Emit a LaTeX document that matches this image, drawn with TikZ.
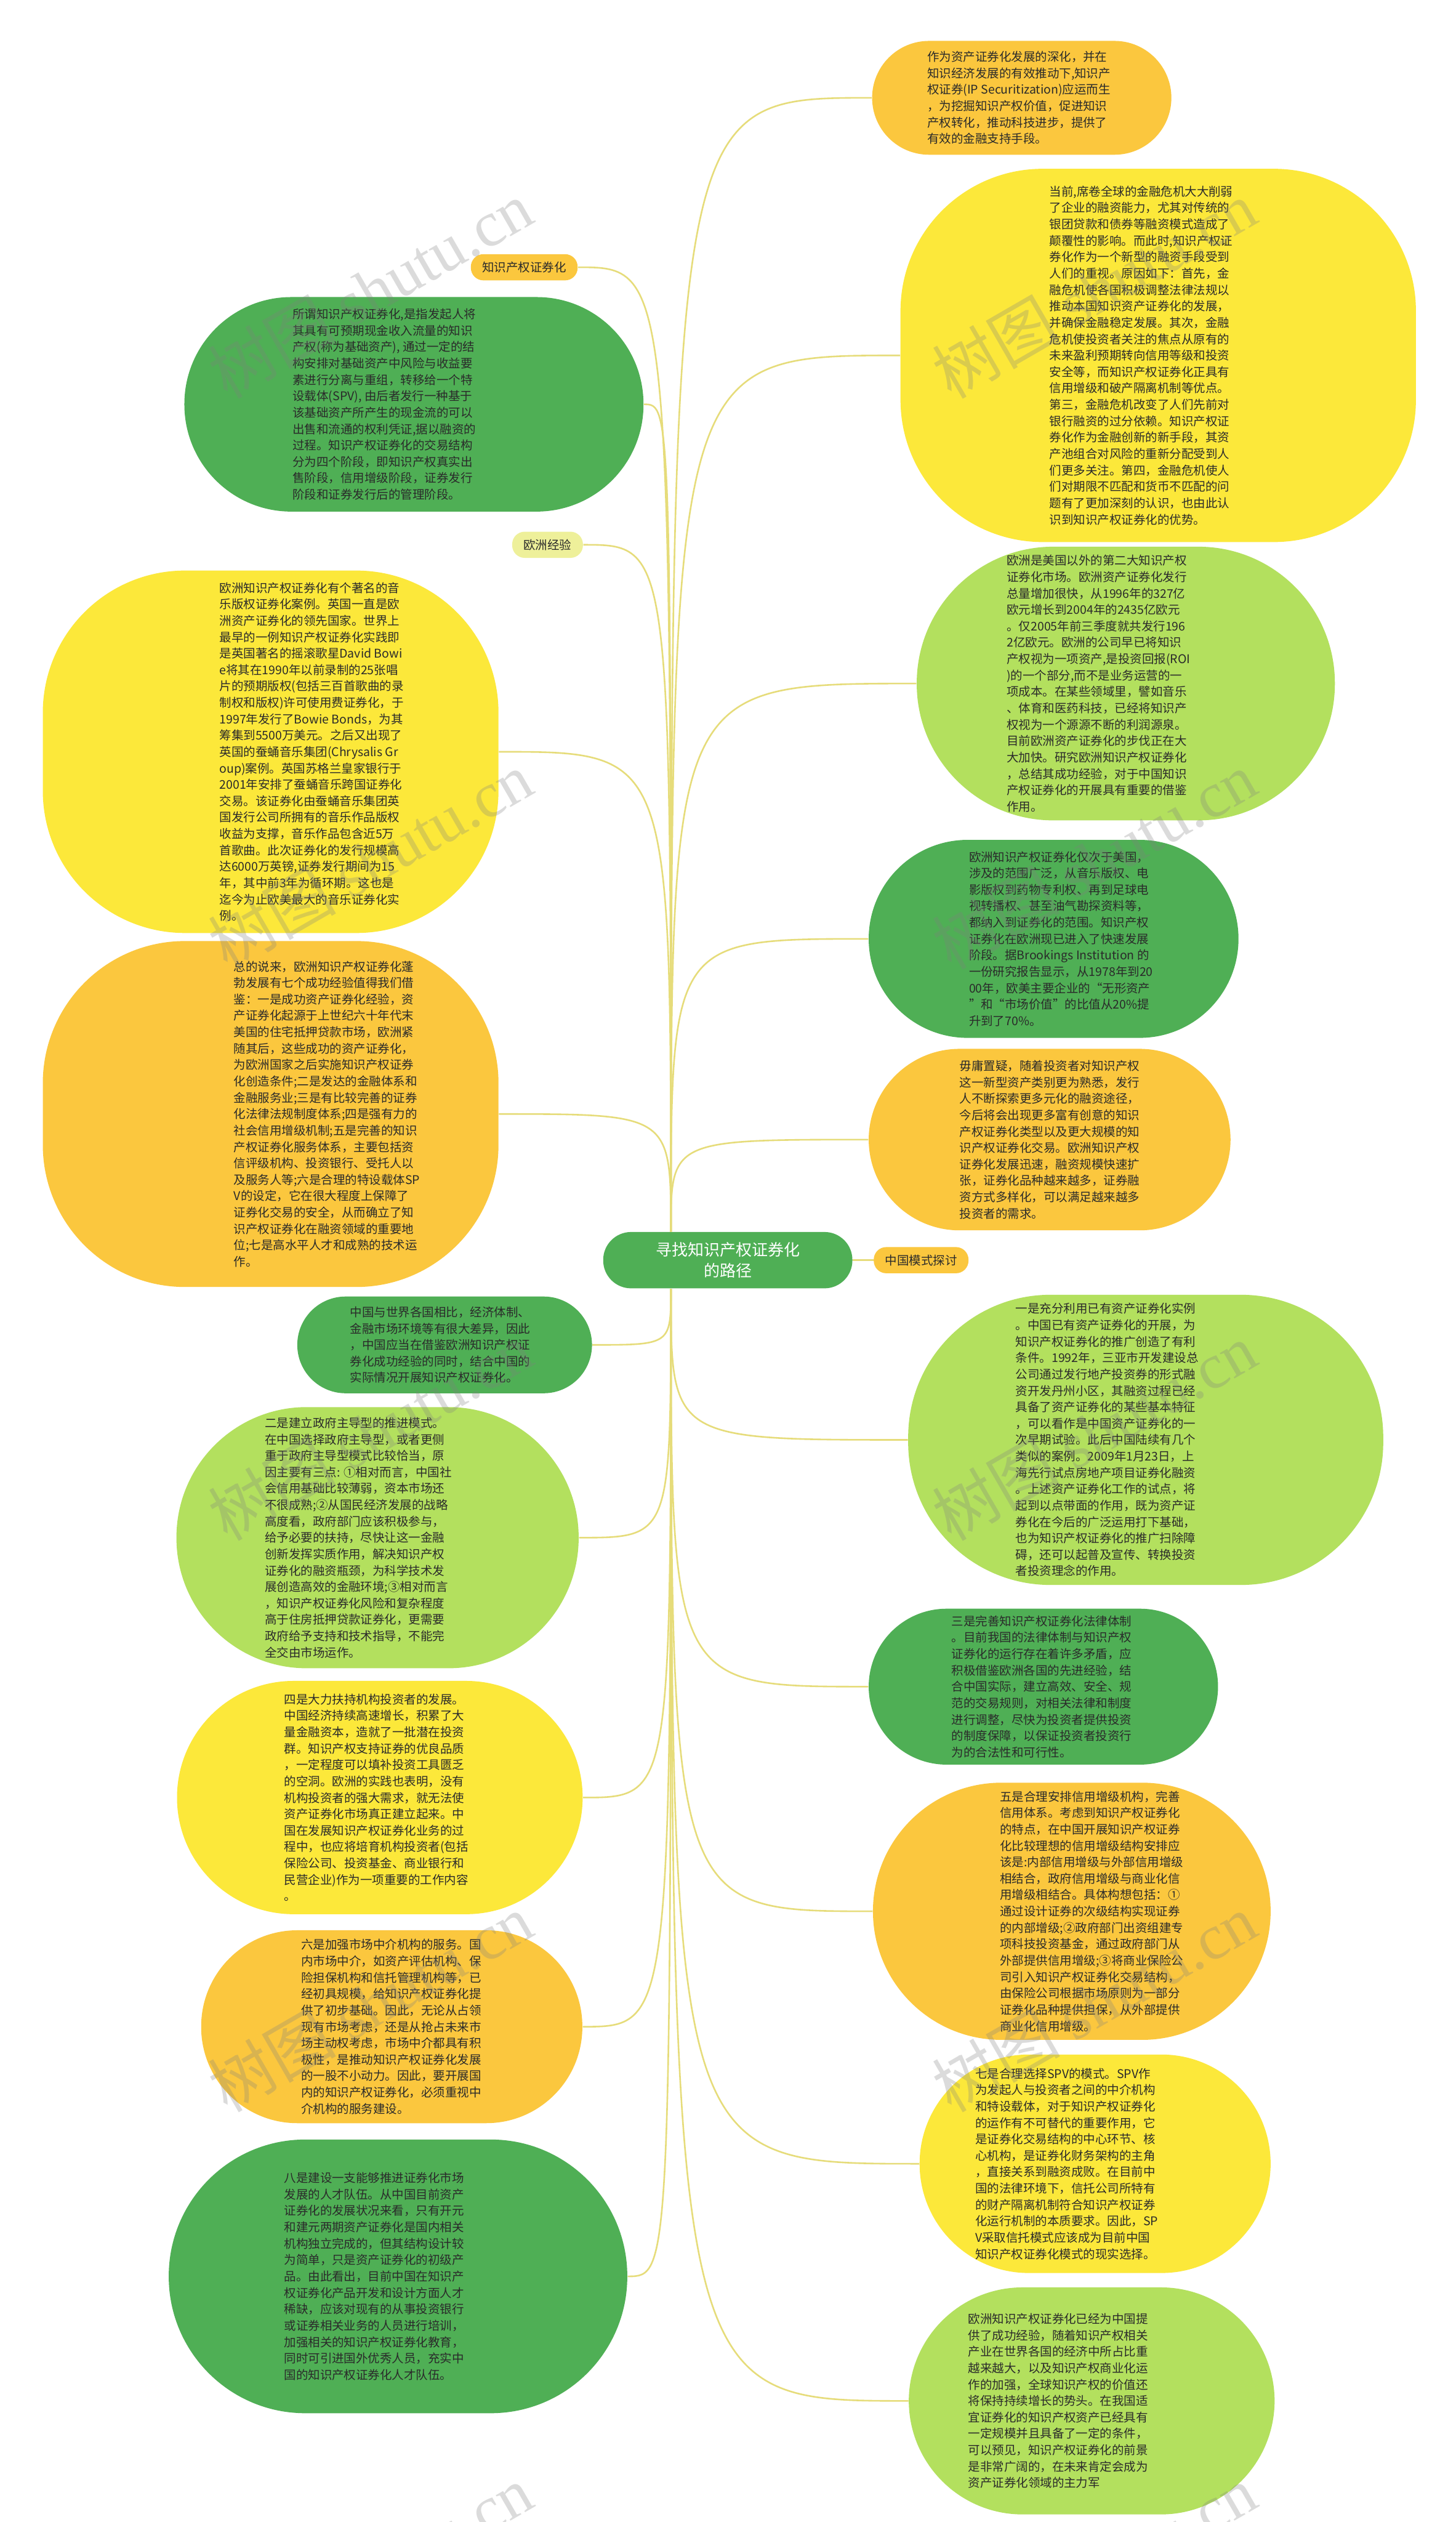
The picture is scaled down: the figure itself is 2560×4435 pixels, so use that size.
\documentclass[tikz,border=0pt]{standalone}
\usepackage{fontspec}
\setmainfont{Noto Sans CJK SC}
\newfontfamily\wmfont{Liberation Serif}

\definecolor{boxorange}{HTML}{FBC73E}
\definecolor{boxyellow}{HTML}{FCE83A}
\definecolor{boxlight}{HTML}{B3E05E}
\definecolor{boxdark}{HTML}{4FAF55}
\definecolor{tagpale}{HTML}{EEF09A}
\definecolor{linkcol}{HTML}{E6DC7A}
\definecolor{textdark}{HTML}{2A2A2A}

\begin{document}
\begin{tikzpicture}[x=0.01cm, y=-0.01cm,
            box/.style n args={4}{fill=#1, minimum width=#2, minimum height=#3, rounded corners=#4, inner sep=0pt},
            txt/.style={align=left, font=\fontsize{6}{8.2}\selectfont, text=textdark, inner sep=0pt},
            tag/.style={fill=#1, rounded corners=0.22cm, minimum height=0.46cm, inner xsep=0.2cm, font=\fontsize{6}{8.2}\selectfont, text=textdark},
            link/.style={draw=linkcol, line width=0.8pt},
            wm/.style={text=gray, opacity=0.28, rotate=30, font=\fontsize{32}{34}\selectfont}
        ]
            % canvas
            \fill[white] (0, 0) rectangle (2560, 4435);
            \useasboundingbox (0, 0) rectangle (2560, 4435);
            % root
            \node[fill=boxdark, rounded corners=0.49cm, minimum width=4.38cm, minimum height=0.99cm, align=center, text=white, font=\fontsize{8}{10.5}\selectfont] (root) at (1280, 2216) {寻找知识产权证券化\\的路径};
            \coordinate (up) at ([xshift=-1cm]root.north);
            \coordinate (down) at ([xshift=-1cm]root.south);
            % tags
            \node[tag=boxorange] (tagip) at (922, 470) {知识产权证券化};
            \node[tag=tagpale] (tageu) at (963, 958) {欧洲经验};
            \node[tag=boxorange] (tagcn) at (1620, 2216) {中国模式探讨};
            % right side
            \node[box={boxorange}{5.26cm}{2.0cm}{1.0cm}] (r1) at (1797, 172) {};
            \node[txt] (r1t) at (1792, 172) {作为资产证券化发展的深化，并在\\知识经济发展的有效推动下,知识产\\权证券(IP Securitization)应运而生\\，为挖掘知识产权价值，促进知识\\产权转化，推动科技进步，提供了\\有效的金融支持手段。};
            \node[box={boxyellow}{9.06cm}{6.56cm}{2.5cm}] (r2) at (2037, 625) {};
            \node[txt] (r2t) at (2007, 625) {当前,席卷全球的金融危机大大削弱\\了企业的融资能力，尤其对传统的\\银团贷款和债券等融资模式造成了\\颠覆性的影响。而此时,知识产权证\\券化作为一个新型的融资手段受到\\人们的重视。原因如下：首先，金\\融危机使各国积极调整法律法规以\\推动本国知识资产证券化的发展，\\并确保金融稳定发展。其次，金融\\危机使投资者关注的焦点从原有的\\未来盈利预期转向信用等级和投资\\安全等，而知识产权证券化正具有\\信用增级和破产隔离机制等优点。\\第三，金融危机改变了人们先前对\\银行融资的过分依赖。知识产权证\\券化作为金融创新的新手段，其资\\产池组合对风险的重新分配受到人\\们更多关注。第四，金融危机使人\\们对期限不匹配和货币不匹配的问\\题有了更加深刻的认识，也由此认\\识到知识产权证券化的优势。};
            \node[box={boxlight}{7.35cm}{4.81cm}{2.4cm}] (r3) at (1980, 1202) {};
            \node[txt] (r3t) at (1932, 1202) {欧洲是美国以外的第二大知识产权\\证券化市场。欧洲资产证券化发行\\总量增加很快，从1996年的327亿\\欧元增长到2004年的2435亿欧元\\。仅2005年前三季度就共发行196\\2亿欧元。欧洲的公司早已将知识\\产权视为一项资产,是投资回报(ROI\\)的一个部分,而不是业务运营的一\\项成本。在某些领域里，譬如音乐\\、体育和医药科技，已经将知识产\\权视为一个源源不断的利润源泉。\\目前欧洲资产证券化的步伐正在大\\大加快。研究欧洲知识产权证券化\\，总结其成功经验，对于中国知识\\产权证券化的开展具有重要的借鉴\\作用。};
            \node[box={boxdark}{6.5cm}{3.48cm}{1.74cm}] (r4) at (1853, 1651) {};
            \node[txt] (r4t) at (1866, 1651) {欧洲知识产权证券化仅次于美国，\\涉及的范围广泛，从音乐版权、电\\影版权到药物专利权、再到足球电\\视转播权、甚至油气勘探资料等，\\都纳入到证券化的范围。知识产权\\证券化在欧洲现已进入了快速发展\\阶段。据Brookings Institution 的\\一份研究报告显示，从1978年到20\\00年，欧美主要企业的“无形资产\\”和“市场价值”的比值从20\%提\\升到了70\%。};
            \node[box={boxorange}{6.36cm}{3.19cm}{1.6cm}] (r5) at (1846, 2004) {};
            \node[txt] (r5t) at (1846, 2004) {毋庸置疑，随着投资者对知识产权\\这一新型资产类别更为熟悉，发行\\人不断探索更多元化的融资途径，\\今后将会出现更多富有创意的知识\\产权证券化类型以及更大规模的知\\识产权证券化交易。欧洲知识产权\\证券化发展迅速，融资规模快速扩\\张，证券化品种越来越多，证券融\\资方式多样化，可以满足越来越多\\投资者的需求。};
            \node[box={boxlight}{8.35cm}{5.1cm}{2.5cm}] (r6) at (2015, 2532) {};
            \node[txt] (r6t) at (1947, 2532) {一是充分利用已有资产证券化实例\\。中国已有资产证券化的开展，为\\知识产权证券化的推广创造了有利\\条件。1992年，三亚市开发建设总\\公司通过发行地产投资券的形式融\\资开发丹州小区，其融资过程已经\\具备了资产证券化的某些基本特征\\，可以看作是中国资产证券化的一\\次早期试验。此后中国陆续有几个\\类似的案例。2009年1月23日，上\\海先行试点房地产项目证券化融资\\。上述资产证券化工作的试点，将\\起到以点带面的作用，既为资产证\\券化在今后的广泛运用打下基础，\\也为知识产权证券化的推广扫除障\\碍，还可以起普及宣传、转换投资\\者投资理念的作用。};
            \node[box={boxdark}{6.14cm}{2.74cm}{1.37cm}] (r7) at (1835, 2966) {};
            \node[txt] (r7t) at (1832, 2966) {三是完善知识产权证券化法律体制\\。目前我国的法律体制与知识产权\\证券化的运行存在着许多矛盾，应\\积极借鉴欧洲各国的先进经验，结\\合中国实际，建立高效、安全、规\\范的交易规则，对相关法律和制度\\进行调整，尽快为投资者提供投资\\的制度保障，以保证投资者投资行\\为的合法性和可行性。};
            \node[box={boxorange}{6.99cm}{4.52cm}{2.26cm}] (r8) at (1885, 3361) {};
            \node[txt] (r8t) at (1920, 3361) {五是合理安排信用增级机构，完善\\信用体系。考虑到知识产权证券化\\的特点，在中国开展知识产权证券\\化比较理想的信用增级结构安排应\\该是:内部信用增级与外部信用增级\\相结合，政府信用增级与商业化信\\用增级相结合。具体构想包括：①\\通过设计证券的次级结构实现证券\\的内部增级;②政府部门出资组建专\\项科技投资基金，通过政府部门从\\外部提供信用增级;③将商业保险公\\司引入知识产权证券化交易结构，\\由保险公司根据市场原则为一部分\\证券化品种提供担保，从外部提供\\商业化信用增级。};
            \node[box={boxyellow}{6.17cm}{3.84cm}{1.92cm}] (r9) at (1926, 3805) {};
            \node[txt] (r9t) at (1876, 3805) {七是合理选择SPV的模式。SPV作\\为发起人与投资者之间的中介机构\\和特设载体，对于知识产权证券化\\的运作有不可替代的重要作用，它\\是证券化交易结构的中心环节、核\\心机构，是证券化财务架构的主角\\，直接关系到融资成败。在目前中\\国的法律环境下，信托公司所特有\\的财产隔离机制符合知识产权证券\\化运行机制的本质要求。因此，SP\\V采取信托模式应该成为目前中国\\知识产权证券化模式的现实选择。};
            \node[box={boxlight}{6.43cm}{3.99cm}{2.0cm}] (r10) at (1920, 4222) {};
            \node[txt] (r10t) at (1861, 4222) {欧洲知识产权证券化已经为中国提\\供了成功经验，随着知识产权相关\\产业在世界各国的经济中所占比重\\越来越大，以及知识产权商业化运\\作的加强，全球知识产权的价值还\\将保持持续增长的势头。在我国适\\宜证券化的知识产权资产已经具有\\一定规模并且具备了一定的条件，\\可以预见，知识产权证券化的前景\\是非常广阔的，在未来肯定会成为\\资产证券化领域的主力军};
            % left side
            \node[box={boxdark}{8.07cm}{3.77cm}{1.88cm}] (l1) at (728, 711) {};
            \node[txt] (l1t) at (676, 711) {所谓知识产权证券化,是指发起人将\\其具有可预期现金收入流量的知识\\产权(称为基础资产), 通过一定的结\\构安排对基础资产中风险与收益要\\素进行分离与重组，转移给一个特\\设载体(SPV), 由后者发行一种基于\\该基础资产所产生的现金流的可以\\出售和流通的权利凭证,据以融资的\\过程。知识产权证券化的交易结构\\分为四个阶段，即知识产权真实出\\售阶段，信用增级阶段，证券发行\\阶段和证券发行后的管理阶段。};
            \node[box={boxyellow}{8.01cm}{6.37cm}{2.5cm}] (l2) at (476, 1322) {};
            \node[txt] (l2t) at (548, 1322) {欧洲知识产权证券化有个著名的音\\乐版权证券化案例。英国一直是欧\\洲资产证券化的领先国家。世界上\\最早的一例知识产权证券化实践即\\是英国著名的摇滚歌星David Bowi\\e将其在1990年以前录制的25张唱\\片的预期版权(包括三百首歌曲的录\\制权和版权)许可使用费证券化，于\\1997年发行了Bowie Bonds，为其\\筹集到5500万美元。之后又出现了\\英国的蚕蛹音乐集团(Chrysalis Gr\\oup)案例。英国苏格兰皇家银行于\\2001年安排了蚕蛹音乐跨国证券化\\交易。该证券化由蚕蛹音乐集团英\\国发行公司所拥有的音乐作品版权\\收益为支撑，音乐作品包含近5万\\首歌曲。此次证券化的发行规模高\\达6000万英镑,证券发行期间为15\\年，其中前3年为循环期。这也是\\迄今为止欧美最大的音乐证券化实\\例。};
            \node[box={boxorange}{8.01cm}{6.08cm}{2.5cm}] (l3) at (476, 1959) {};
            \node[txt] (l3t) at (575, 1959) {总的说来，欧洲知识产权证券化蓬\\勃发展有七个成功经验值得我们借\\鉴：一是成功资产证券化经验，资\\产证券化起源于上世纪六十年代末\\美国的住宅抵押贷款市场，欧洲紧\\随其后，这些成功的资产证券化，\\为欧洲国家之后实施知识产权证券\\化创造条件;二是发达的金融体系和\\金融服务业;三是有比较完善的证券\\化法律法规制度体系;四是强有力的\\社会信用增级机制;五是完善的知识\\产权证券化服务体系，主要包括资\\信评级机构、投资银行、受托人以\\及服务人等;六是合理的特设载体SP\\V的设定，它在很大程度上保障了\\证券化交易的安全，从而确立了知\\识产权证券化在融资领域的重要地\\位;七是高水平人才和成熟的技术运\\作。};
            \node[box={boxdark}{5.18cm}{1.7cm}{0.85cm}] (l4) at (782, 2365) {};
            \node[txt] (l4t) at (774, 2365) {中国与世界各国相比，经济体制、\\金融市场环境等有很大差异，因此\\，中国应当在借鉴欧洲知识产权证\\券化成功经验的同时，结合中国的\\实际情况开展知识产权证券化。};
            \node[box={boxlight}{7.07cm}{4.59cm}{2.29cm}] (l5) at (664, 2704) {};
            \node[txt] (l5t) at (630, 2704) {二是建立政府主导型的推进模式。\\在中国选择政府主导型，或者更侧\\重于政府主导型模式比较恰当，原\\因主要有三点: ①相对而言，中国社\\会信用基础比较薄弱，资本市场还\\不很成熟;②从国民经济发展的战略\\高度看，政府部门应该积极参与，\\给予必要的扶持，尽快让这一金融\\创新发挥实质作用，解决知识产权\\证券化的融资瓶颈，为科学技术发\\展创造高效的金融环境;③相对而言\\，知识产权证券化风险和复杂程度\\高于住房抵押贷款证券化，更需要\\政府给予支持和技术指导，不能完\\全交由市场运作。};
            \node[box={boxyellow}{7.13cm}{4.1cm}{2.05cm}] (l6) at (668, 3161) {};
            \node[txt] (l6t) at (662, 3161) {四是大力扶持机构投资者的发展。\\中国经济持续高速增长，积累了大\\量金融资本，造就了一批潜在投资\\群。知识产权支持证券的优良品质\\，一定程度可以填补投资工具匮乏\\的空洞。欧洲的实践也表明，没有\\机构投资者的强大需求，就无法使\\资产证券化市场真正建立起来。中\\国在发展知识产权证券化业务的过\\程中，也应将培育机构投资者(包括\\保险公司、投资基金、商业银行和\\民营企业)作为一项重要的工作内容\\。};
            \node[box={boxorange}{6.7cm}{3.39cm}{1.69cm}] (l7) at (689, 3564) {};
            \node[txt] (l7t) at (688, 3564) {六是加强市场中介机构的服务。国\\内市场中介，如资产评估机构、保\\险担保机构和信托管理机构等，已\\经初具规模，给知识产权证券化提\\供了初步基础。因此，无论从占领\\现有市场考虑，还是从抢占未来市\\场主动权考虑，市场中介都具有积\\极性，是推动知识产权证券化发展\\的一股不小动力。因此，要开展国\\内的知识产权证券化，必须重视中\\介机构的服务建设。};
            \node[box={boxdark}{8.06cm}{4.81cm}{2.4cm}] (l8) at (700, 4003) {};
            \node[txt] (l8t) at (658, 4003) {八是建设一支能够推进证券化市场\\发展的人才队伍。从中国目前资产\\证券化的发展状况来看，只有开元\\和建元两期资产证券化是国内相关\\机构独立完成的，但其结构设计较\\为简单，只是资产证券化的初级产\\品。由此看出，目前中国在知识产\\权证券化产品开发和设计方面人才\\稀缺，应该对现有的从事投资银行\\或证券相关业务的人员进行培训，\\加强相关的知识产权证券化教育，\\同时可引进国外优秀人员，充实中\\国的知识产权证券化人才队伍。};
            % links
            \foreach \n in {r1, r2, r3, r4, r5}
                \draw[link] (up) .. controls (up |- \n.west) .. (\n.west);
            \foreach \n in {tagip, l1, tageu, l2, l3}
                \draw[link] (up) .. controls (up |- \n.east) .. (\n.east);
            \foreach \n in {r6, r7, r8, r9, r10}
                \draw[link] (down) .. controls (down |- \n.west) .. (\n.west);
            \foreach \n in {l4, l5, l6, l7, l8}
                \draw[link] (down) .. controls (down |- \n.east) .. (\n.east);
            \draw[link] (root.east) -- (tagcn.west);
            % watermark
            \foreach \y [count=\i] in {509, 1513, 2518, 3522, 4526} {
                \node[wm] (wml\i) at (651, \y) {树图 {\wmfont shutu.cn}};
                \node[wm] (wmr\i) at (1924, \y) {树图 {\wmfont shutu.cn}};
            }
        \end{tikzpicture}
\end{document}
